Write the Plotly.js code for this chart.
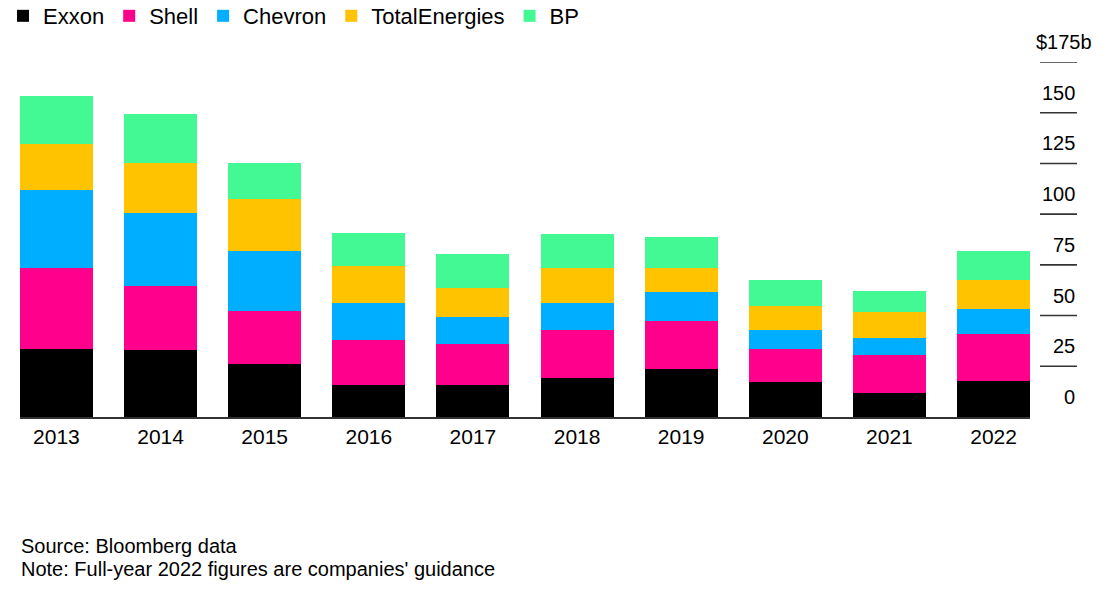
<!DOCTYPE html>
<html>
<head>
<meta charset="utf-8">
<script src="https://cdn.plot.ly/plotly-3.0.1.min.js"></script>
<style>
  html, body { margin: 0; padding: 0; background: #ffffff; }
  #chart { width: 1107px; height: 590px; }
</style>
</head>
<body>
<div id="chart"></div>
<script>
// ---- data (billions of US dollars) ----
const years = ['2013', '2014', '2015', '2016', '2017', '2018', '2019', '2020', '2021', '2022'];
const exxon   = [33.7, 32.9, 26.1, 15.6, 15.6, 19.4, 23.9, 17.1, 11.8, 17.7];
const shell   = [39.7, 31.7, 26.3, 22.5, 20.4, 23.3, 23.3, 16.6, 18.8, 23.4];
const chevron = [38.3, 35.9, 29.3, 18.1, 13.3, 13.5, 14.4,  9.0,  8.3, 12.0];
const total   = [22.7, 24.7, 25.6, 18.2, 14.5, 17.2, 11.8, 12.0, 13.0, 14.4];
const bp      = [24.0, 24.1, 18.1, 16.5, 16.4, 16.6, 15.2, 12.7, 10.2, 14.2];
const seriesNames = ['Exxon', 'Shell', 'Chevron', 'TotalEnergies', 'BP'];
const yTickValues = [0, 25, 50, 75, 100, 125, 150, 175];
const yTickLabels = ['0', '25', '50', '75', '100', '125', '150', '$175b'];

const colors = ['#000000', '#ff008c', '#00aeff', '#ffc300', '#42f993'];
const allSeries = [exxon, shell, chevron, total, bp];
const FONT = 'Liberation Sans, Arial, Helvetica, sans-serif';

const traces = allSeries.map((vals, i) => ({
  type: 'bar',
  name: seriesNames[i],
  x: years,
  y: vals,
  marker: { color: colors[i], line: { width: 0 } },
  hoverinfo: 'x+y+name'
}));

// right-side tick lines and labels (labels sit above their lines)
const shapes = [];
const annotations = [];
yTickValues.forEach((v, i) => {
  if (v > 0) {
    shapes.push({
      type: 'line', xref: 'paper', yref: 'y',
      x0: 1.0099, x1: 1.0465, y0: v, y1: v,
      line: { color: '#333333', width: 1.6 }
    });
  }
  annotations.push({
    xref: 'paper', yref: 'y',
    x: v === 175 ? 1.0634 : 1.0465, y: v,
    yshift: 20,
    xanchor: 'right', yanchor: 'middle',
    text: yTickLabels[i], showarrow: false,
    font: { family: FONT, size: 20, color: '#000000' }
  });
});

annotations.push({
  xref: 'paper', yref: 'paper', x: -0.001, y: -0.363,
  xanchor: 'left', yanchor: 'middle', showarrow: false,
  text: 'Source: Bloomberg data',
  font: { family: FONT, size: 20, color: '#000000' }
});
annotations.push({
  xref: 'paper', yref: 'paper', x: -0.001, y: -0.428,
  xanchor: 'left', yanchor: 'middle', showarrow: false,
  text: "Note: Full-year 2022 figures are companies' guidance",
  font: { family: FONT, size: 20, color: '#000000' }
});

const layout = {
  width: 1107,
  height: 590,
  margin: { l: 20, r: 77, t: 62, b: 173, autoexpand: false },
  paper_bgcolor: '#ffffff',
  plot_bgcolor: '#ffffff',
  barmode: 'stack',
  bargap: 0.3,
  showlegend: true,
  legend: {
    orientation: 'h',
    x: -0.0168, y: 1.1887,
    xanchor: 'left', yanchor: 'top',
    traceorder: 'normal',
    font: { family: FONT, size: 22, color: '#000000' },
    bgcolor: 'rgba(0,0,0,0)'
  },
  xaxis: {
    type: 'category',
    range: [-0.35, 9.35],
    showgrid: false,
    zeroline: false,
    showline: true,
    linecolor: '#333333',
    linewidth: 2,
    ticks: '',
    tickfont: { family: FONT, size: 21, color: '#000000' },
    fixedrange: true
  },
  yaxis: {
    range: [0, 175],
    visible: false,
    fixedrange: true
  },
  shapes: shapes,
  annotations: annotations,
  font: { family: FONT }
};

Plotly.newPlot('chart', traces, layout, { displayModeBar: false, staticPlot: true });
</script>
</body>
</html>
